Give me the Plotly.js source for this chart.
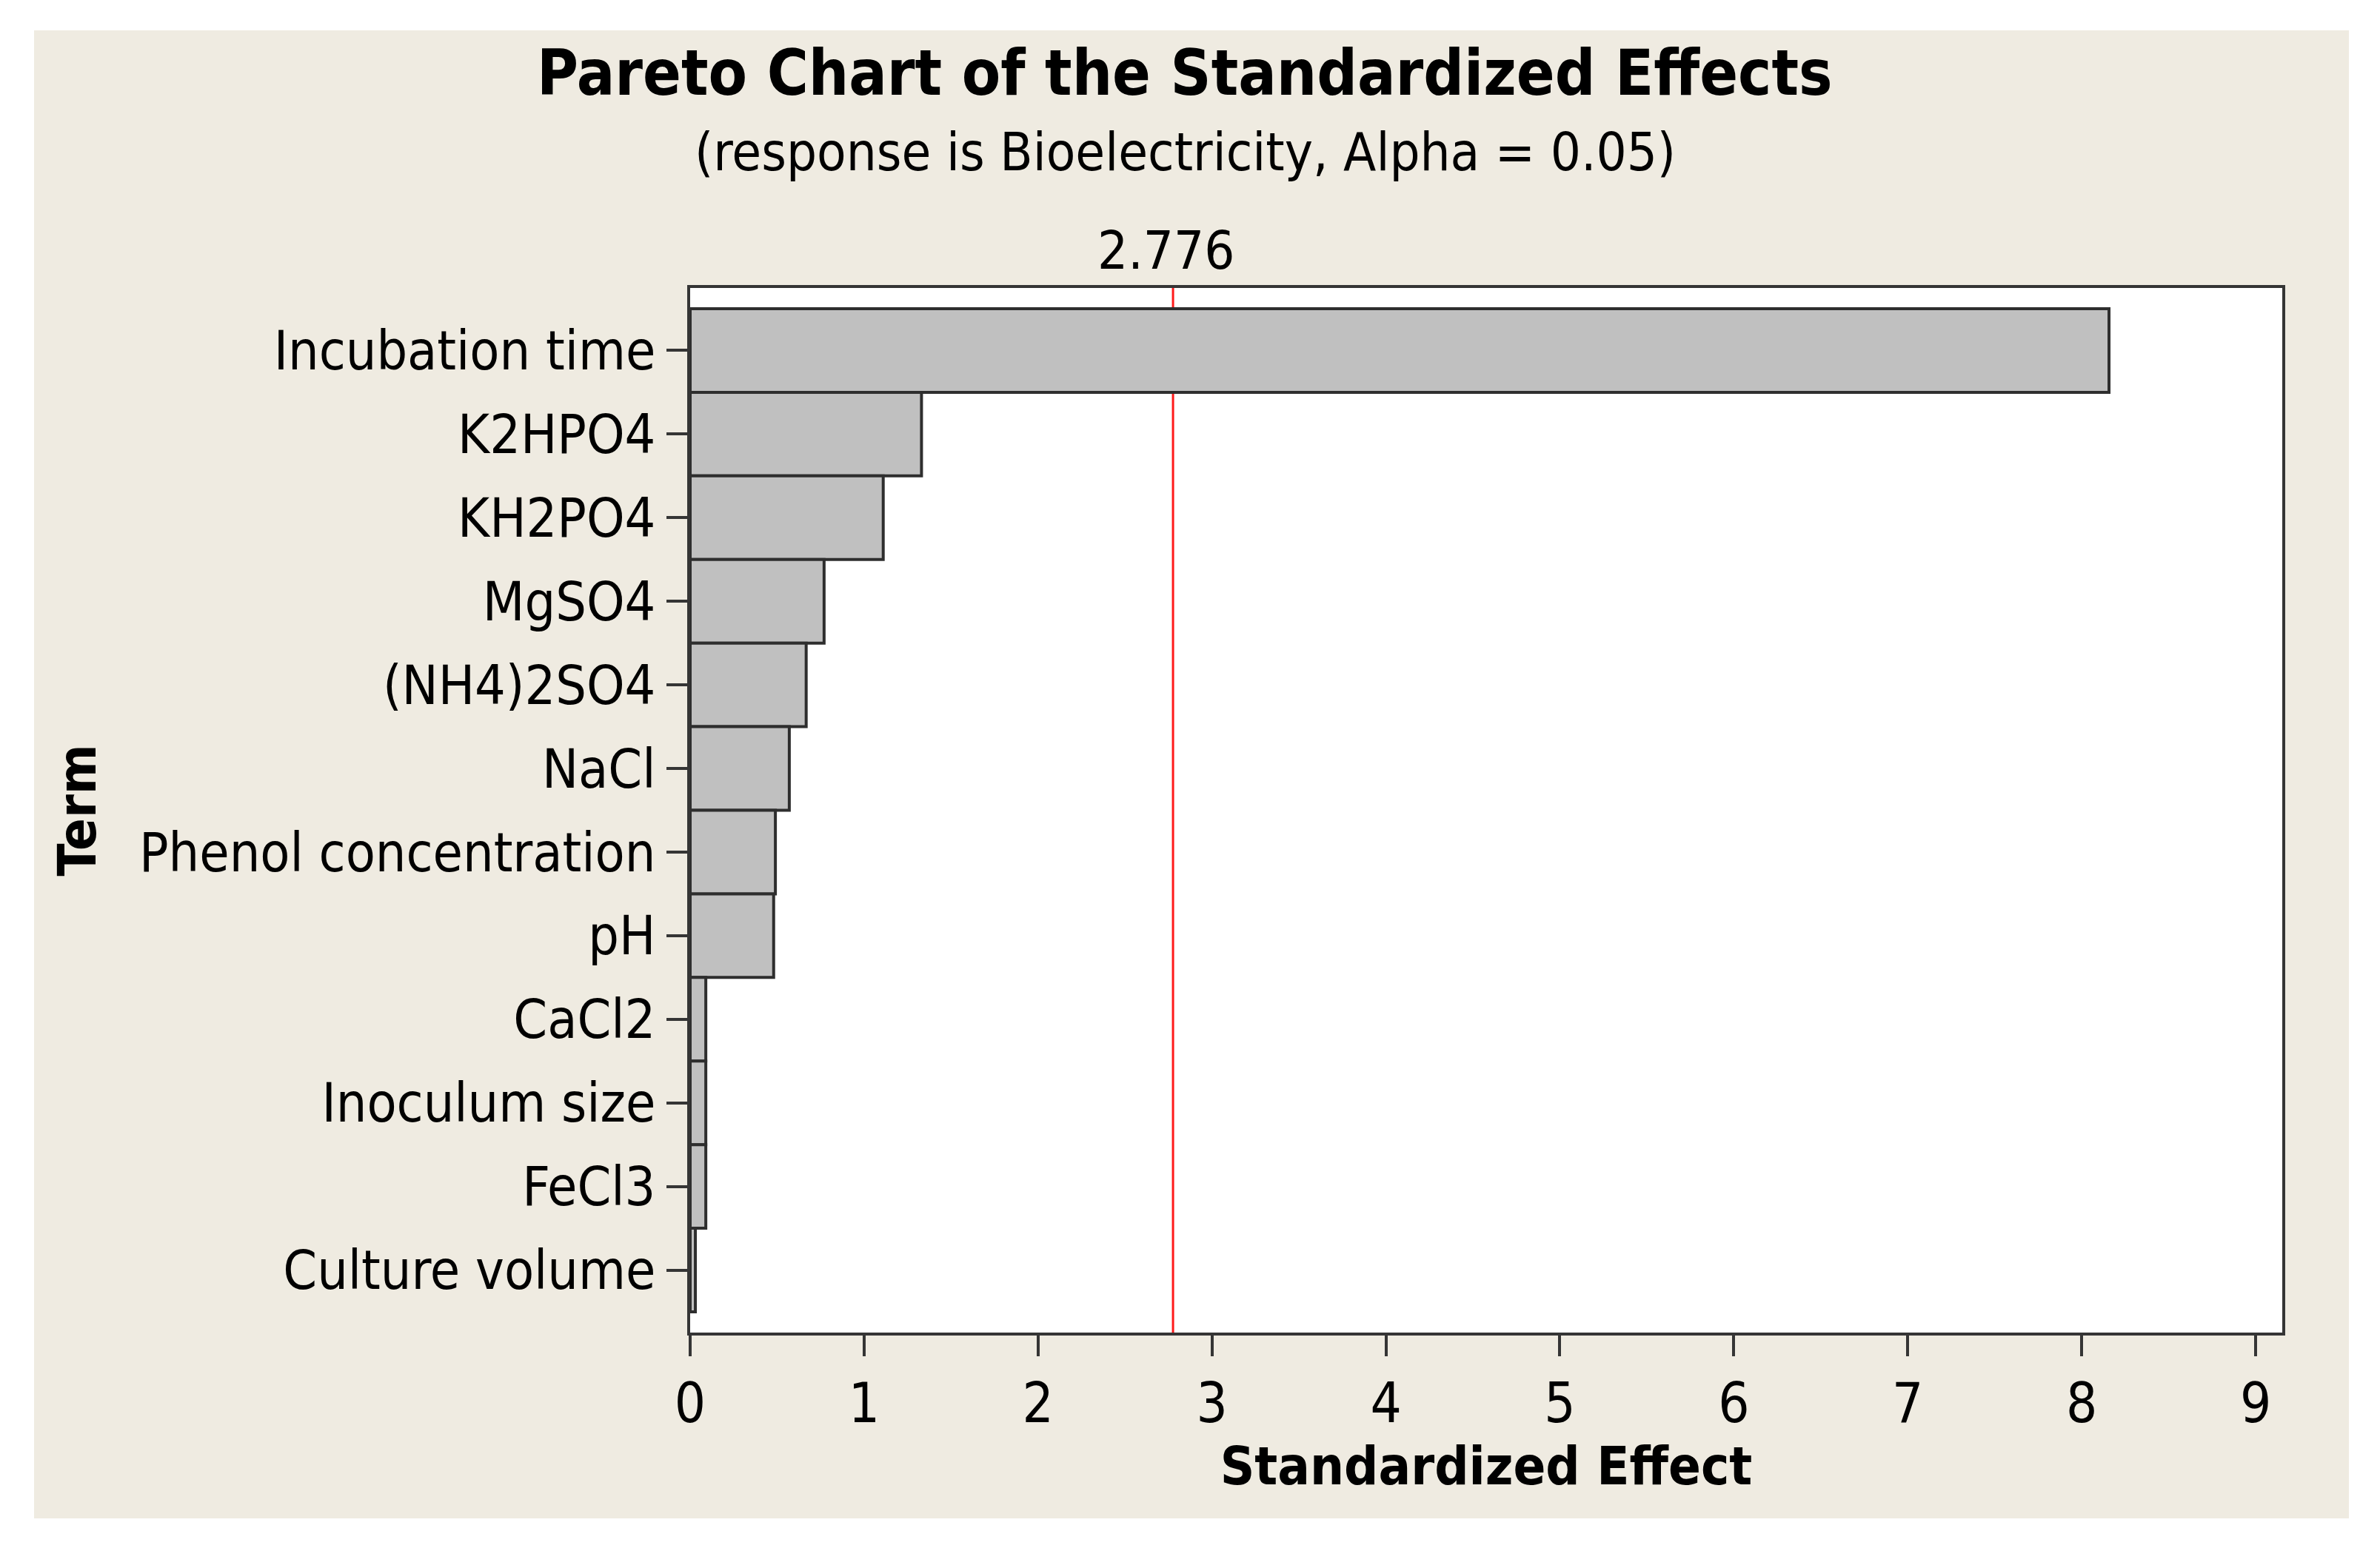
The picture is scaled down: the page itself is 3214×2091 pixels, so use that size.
<!DOCTYPE html>
<html>
<head>
<meta charset="utf-8">
<script src="https://cdn.plot.ly/plotly-3.0.1.min.js"></script>
<style>
  html, body { margin: 0; padding: 0; background: #ffffff; width: 3214px; height: 2091px; overflow: hidden; }
  #chart { position: absolute; left: 46px; top: 41px; width: 3126px; height: 2010px; }
</style>
</head>
<body>
<div id="chart"></div>
<script>
const terms = ["Incubation time", "K2HPO4", "KH2PO4", "MgSO4", "(NH4)2SO4", "NaCl",
               "Phenol concentration", "pH", "CaCl2", "Inoculum size", "FeCl3", "Culture volume"];
const effects = [8.157, 1.33, 1.11, 0.77, 0.667, 0.57, 0.49, 0.48, 0.09, 0.09, 0.09, 0.03];
const criticalValue = 2.776;
const xTicks = [0, 1, 2, 3, 4, 5, 6, 7, 8, 9];

const FONT = "'DejaVu Sans Condensed', 'DejaVu Sans', sans-serif";
const AX = "#353535";

const trace = {
  type: "bar",
  orientation: "h",
  x: effects,
  y: terms,
  width: 1,
  marker: { color: "#c0c0c0", line: { color: "#2e2e2e", width: 4 } },
  hoverinfo: "x+y"
};

const layout = {
  width: 3126,
  height: 2010,
  margin: { l: 886, r: 90, t: 348, b: 251, pad: 0 },
  paper_bgcolor: "#efebe1",
  plot_bgcolor: "#ffffff",
  showlegend: false,
  font: { family: FONT, color: "#000000", size: 72 },
  xaxis: {
    range: [0, 9.153],
    tickvals: xTicks,
    ticktext: xTicks.map(String),
    ticks: "outside", ticklen: 28, tickwidth: 4, tickcolor: AX,
    showline: true, mirror: true, linecolor: AX, linewidth: 4,
    showgrid: false, zeroline: false,
    tickfont: { family: FONT, size: 74, color: "#000" },
    title: { text: "Standardized Effect", font: { family: FONT, size: 72, weight: "bold", color: "#000" }, standoff: 2 },
    automargin: false
  },
  yaxis: {
    type: "category",
    categoryorder: "array",
    categoryarray: terms,
    range: [11.748, -0.748],
    ticks: "outside", ticklen: 28, tickwidth: 4, tickcolor: AX,
    showline: true, mirror: true, linecolor: AX, linewidth: 4,
    showgrid: false, zeroline: false,
    tickfont: { family: FONT, size: 73, color: "#000" },
    title: { text: "Term", font: { family: FONT, size: 72, weight: "bold", color: "#000" }, standoff: 36 },
    automargin: false
  },
  shapes: [{
    type: "line", xref: "x", yref: "paper",
    x0: criticalValue, x1: criticalValue, y0: 0, y1: 1,
    line: { color: "#ff1a1a", width: 3 },
    layer: "below"
  }],
  annotations: [
    {
      text: "Pareto Chart of the Standardized Effects",
      xref: "paper", yref: "paper", x: 0.3107, y: 1.2062,
      xanchor: "center", yanchor: "middle", showarrow: false,
      font: { family: FONT, size: 85, weight: "bold", color: "#000" }
    },
    {
      text: "(response is Bioelectricity, Alpha = 0.05)",
      xref: "paper", yref: "paper", x: 0.3107, y: 1.1304,
      xanchor: "center", yanchor: "middle", showarrow: false,
      font: { family: FONT, size: 72, color: "#000" }
    },
    {
      text: String(criticalValue),
      xref: "x", yref: "paper", x: criticalValue, y: 1.0361,
      xanchor: "center", yanchor: "middle", showarrow: false, xshift: -10,
      font: { family: FONT, size: 72, color: "#000" }
    }
  ]
};

Plotly.newPlot("chart", [trace], layout, { displayModeBar: false, staticPlot: true });
</script>
</body>
</html>
